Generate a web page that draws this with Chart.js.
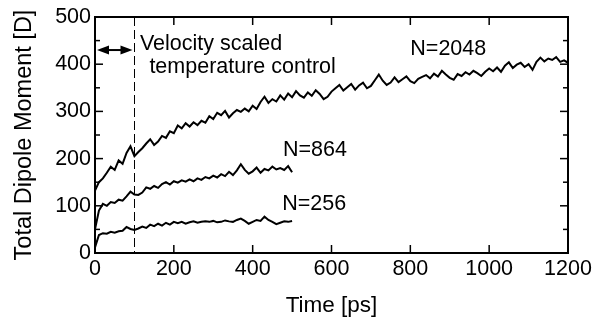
<!DOCTYPE html>
<html>
<head>
<meta charset="utf-8">
<script src="https://cdn.jsdelivr.net/npm/chart.js@4/dist/chart.umd.min.js"></script>
<style>
  html, body { margin: 0; padding: 0; background: #fff; }
  #wrap { width: 609px; height: 327px; }
</style>
</head>
<body>
<div id="wrap"><canvas id="chartDipole" width="609" height="327"></canvas></div>
<script>
// time axes [ps]
const timeLong = [0,10,20,30,40,50,60,70,80,90,100,110,120,130,140,150,160,170,180,190,
  200,210,220,230,240,250,260,270,280,290,300,310,320,330,340,350,360,370,380,390,
  400,410,420,430,440,450,460,470,480,490,500,510,520,530,540,550,560,570,580,590,
  600,610,620,630,640,650,660,670,680,690,700,710,720,730,740,750,760,770,780,790,
  800,810,820,830,840,850,860,870,880,890,900,910,920,930,940,950,960,970,980,990,
  1000,1010,1020,1030,1040,1050,1060,1070,1080,1090,1100,1110,1120,1130,1140,1150,1160,1170,1180,1190,1200];
const timeShort = [0,10,20,30,40,50,60,70,80,90,100,110,120,130,140,150,160,170,180,190,
  200,210,220,230,240,250,260,270,280,290,300,310,320,330,340,350,360,370,380,390,
  400,410,420,430,440,450,460,470,480,490,500];

// total dipole moment [D]
const n2048 = [132,150,158,170,183,176,196,189,212,226,205,214,222,232,241,229,236,248,244,258,
  254,270,264,275,268,277,271,280,276,290,284,297,292,301,287,296,303,299,306,300,
  312,305,320,331,318,326,321,334,325,338,330,343,334,329,340,333,345,337,326,331,
  342,349,356,344,351,358,346,355,361,349,354,366,378,365,356,361,372,362,368,374,
  364,360,369,373,377,370,380,374,386,378,371,367,379,375,383,378,386,381,375,384,
  391,385,393,384,397,404,392,399,403,394,400,388,405,414,406,412,409,415,405,408,403];
const n864 = [50,90,104,100,108,106,113,111,120,130,124,123,128,139,136,142,138,146,150,145,
  152,149,154,151,156,152,158,155,161,158,164,160,167,163,172,165,175,188,176,168,
  173,181,170,178,175,183,177,180,176,184,171];
const n256 = [12,38,42,41,45,43,46,47,55,51,49,52,56,53,60,57,62,58,64,60,
  66,63,66,62,65,67,64,66,67,66,68,65,66,69,67,66,70,73,68,62,
  66,70,68,77,70,66,61,64,67,66,68];

const xTickMajor = [200,400,600,800,1000];
const yTickMajor = [100,200,300,400];
const yTickMinor = [50,150,250,350,450];

// annotations: [text, time, value]
const labels = [
  ['Velocity scaled', 114, 442],
  ['temperature control', 138, 393],
  ['N=2048', 800, 432],
  ['N=864', 477, 218],
  ['N=256', 475, 104]
];
const controlEnd = 100;
const arrowLevel = 430;

const FONT = '"Liberation Sans", Arial, Helvetica, sans-serif';

const toPts = (ts, vs) => ts.map((t, i) => ({ x: t, y: vs[i] }));

const decor = {
  id: 'decor',
  afterDraw(chart) {
    const { ctx, chartArea: a, scales: { x, y } } = chart;
    const seg = (x1, y1, x2, y2) => { ctx.beginPath(); ctx.moveTo(x1, y1); ctx.lineTo(x2, y2); ctx.stroke(); };
    ctx.save();
    ctx.strokeStyle = '#000';
    ctx.fillStyle = '#000';

    // inward ticks on all four sides
    ctx.lineWidth = 1.5;
    xTickMajor.forEach(v => {
      const px = x.getPixelForValue(v);
      seg(px, a.bottom, px, a.bottom - 8);
      seg(px, a.top, px, a.top + 8);
    });
    yTickMajor.forEach(v => {
      const py = y.getPixelForValue(v);
      seg(a.left, py, a.left + 8, py);
      seg(a.right, py, a.right - 8, py);
    });
    yTickMinor.forEach(v => {
      const py = y.getPixelForValue(v);
      seg(a.left, py, a.left + 5, py);
      seg(a.right, py, a.right - 5, py);
    });

    // frame
    ctx.lineWidth = 2;
    ctx.strokeRect(a.left, a.top, a.right - a.left, a.bottom - a.top);

    // dashed line at end of velocity scaling
    const xd = Math.round(x.getPixelForValue(controlEnd)) + 0.5;
    ctx.lineWidth = 1;
    ctx.setLineDash([9, 4]);
    seg(xd, a.top, xd, a.bottom);
    ctx.setLineDash([]);

    // double arrow
    const ya = y.getPixelForValue(arrowLevel);
    const x0 = x.getPixelForValue(0) + 2, x1 = xd - 2;
    ctx.lineWidth = 2;
    seg(x0 + 8, ya, x1 - 8, ya);
    ctx.beginPath();
    ctx.moveTo(x0, ya); ctx.lineTo(x0 + 12, ya - 4.5); ctx.lineTo(x0 + 12, ya + 4.5); ctx.closePath();
    ctx.fill();
    ctx.beginPath();
    ctx.moveTo(x1, ya); ctx.lineTo(x1 - 12, ya - 4.5); ctx.lineTo(x1 - 12, ya + 4.5); ctx.closePath();
    ctx.fill();

    // text
    ctx.font = '21.5px ' + FONT;
    ctx.textBaseline = 'middle';
    ctx.textAlign = 'left';
    labels.forEach(([txt, t, v]) => ctx.fillText(txt, x.getPixelForValue(t), y.getPixelForValue(v)));
    ctx.restore();
  }
};

const line = (vals, ts) => ({
  data: toPts(ts, vals),
  borderColor: '#000',
  borderWidth: 2,
  pointRadius: 0,
  tension: 0,
  fill: false
});

new Chart(document.getElementById('chartDipole'), {
  type: 'line',
  data: {
    datasets: [line(n2048, timeLong), line(n864, timeShort), line(n256, timeShort)]
  },
  options: {
    responsive: false,
    animation: false,
    layout: { padding: { left: 0, top: 17, right: 41, bottom: 0 } },
    plugins: { legend: { display: false }, tooltip: { enabled: false } },
    scales: {
      x: {
        type: 'linear', min: 0, max: 1200,
        afterFit: s => { s.height = 74; },
        ticks: { stepSize: 200, color: '#000', padding: 3, maxRotation: 0, callback: v => String(v), font: { family: FONT, size: 21.5 } },
        grid: { display: false, drawTicks: false },
        border: { display: false },
        title: { display: true, text: 'Time [ps]', color: '#000', padding: { top: 9, bottom: 8 }, font: { family: FONT, size: 22.5 } }
      },
      y: {
        min: 0, max: 500,
        afterFit: s => { s.width = 95; },
        ticks: { stepSize: 100, color: '#000', padding: 4, font: { family: FONT, size: 21.5 } },
        grid: { display: false, drawTicks: false },
        border: { display: false },
        title: { display: true, text: 'Total Dipole Moment [D]', color: '#000', padding: { top: 10, bottom: 9 }, font: { family: FONT, size: 23.5 } }
      }
    }
  },
  plugins: [decor]
});
</script>
</body>
</html>
